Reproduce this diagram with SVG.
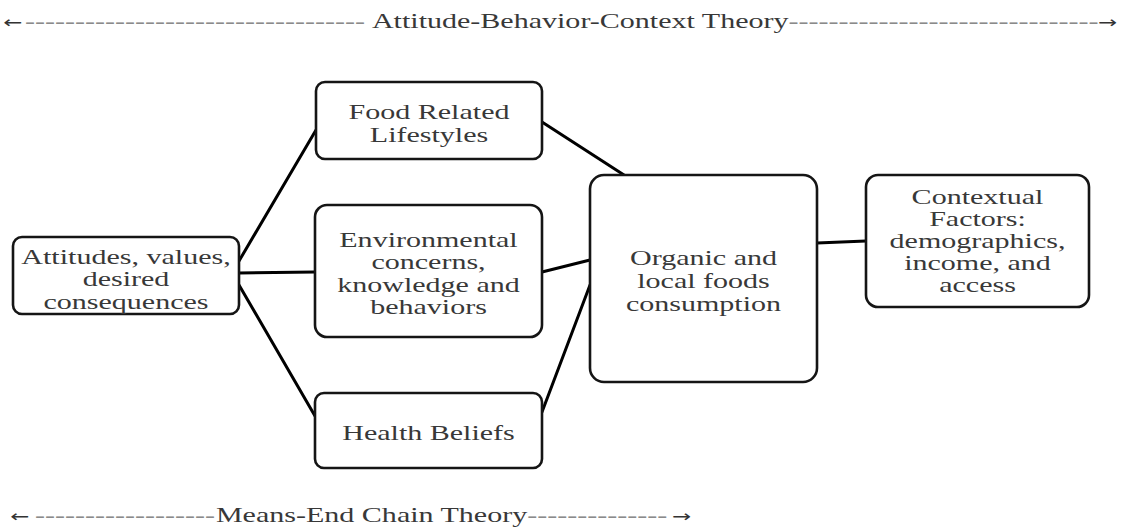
<svg xmlns="http://www.w3.org/2000/svg" width="1126" height="527" viewBox="0 0 1126 527">
<style>
.box{fill:#fff;stroke:#151515;stroke-width:2.6}
.lbl{font-family:"Liberation Serif","Times New Roman",serif;font-size:21px;fill:#383838;text-anchor:middle}
.ttl{font-family:"Liberation Serif","Times New Roman",serif;font-size:21px;fill:#383838}
.dash{fill:#8a8a8a}
.arr{font-family:"DejaVu Sans",sans-serif;font-size:16px;fill:#333}
.con{stroke:#000;stroke-width:3;fill:none;stroke-linecap:round}
</style>
<rect width="1126" height="527" fill="#fff"/>
<g id="connectors">
<line class="con" x1="239" y1="261" x2="316" y2="130"/>
<line class="con" x1="239" y1="273" x2="315" y2="272"/>
<line class="con" x1="239" y1="285" x2="315" y2="416"/>
<line class="con" x1="542" y1="122" x2="624" y2="175"/>
<line class="con" x1="542" y1="272" x2="590" y2="260"/>
<line class="con" x1="542" y1="412" x2="590" y2="285"/>
<line class="con" x1="817" y1="243" x2="866" y2="241"/>
</g>
<g id="node-attitudes">
<rect class="box" x="13" y="237" width="226" height="77" rx="9"/>
<g transform="translate(126,0) scale(1.43,1)"><text class="lbl"><tspan x="0" y="264">Attitudes, values,</tspan><tspan x="0" y="286.5">desired</tspan><tspan x="0" y="309">consequences</tspan></text></g>
</g>
<g id="node-food">
<rect class="box" x="316" y="82" width="226" height="77" rx="9"/>
<g transform="translate(429,0) scale(1.43,1)"><text class="lbl"><tspan x="0" y="119">Food Related</tspan><tspan x="0" y="142">Lifestyles</tspan></text></g>
</g>
<g id="node-environmental">
<rect class="box" x="315" y="205" width="227" height="132" rx="12"/>
<g transform="translate(428.5,0) scale(1.43,1)"><text class="lbl"><tspan x="0" y="247">Environmental</tspan><tspan x="0" y="269">concerns,</tspan><tspan x="0" y="292">knowledge and</tspan><tspan x="0" y="314">behaviors</tspan></text></g>
</g>
<g id="node-health">
<rect class="box" x="315" y="393" width="227" height="75" rx="9"/>
<g transform="translate(428.5,0) scale(1.43,1)"><text class="lbl"><tspan x="0" y="440">Health Beliefs</tspan></text></g>
</g>
<g id="node-organic">
<rect class="box" x="590" y="175" width="227" height="207" rx="14"/>
<g transform="translate(703.5,0) scale(1.43,1)"><text class="lbl"><tspan x="0" y="265">Organic and</tspan><tspan x="0" y="288">local foods</tspan><tspan x="0" y="311">consumption</tspan></text></g>
</g>
<g id="node-contextual">
<rect class="box" x="866" y="175" width="223" height="132" rx="12"/>
<g transform="translate(977.5,0) scale(1.43,1)"><text class="lbl"><tspan x="0" y="204">Contextual</tspan><tspan x="0" y="226">Factors:</tspan><tspan x="0" y="248">demographics,</tspan><tspan x="0" y="270">income, and</tspan><tspan x="0" y="292">access</tspan></text></g>
</g>
<g id="title-top" transform="scale(1.43,1)">
<text class="ttl" y="28"><tspan class="arr" x="2.1">←</tspan><tspan class="dash" x="17.5">----------------------------------</tspan><tspan x="260.1">Attitude-Behavior-Context Theory</tspan><tspan class="dash">-------------------------------</tspan><tspan class="arr" x="767.8">→</tspan></text>
</g>
<g id="title-bottom" transform="scale(1.43,1)">
<text class="ttl" y="522"><tspan class="arr" x="7">←</tspan><tspan class="dash" x="24.5">------------------</tspan><tspan x="151">Means-End Chain Theory</tspan><tspan class="dash">--------------</tspan><tspan class="arr" x="470">→</tspan></text>
</g>
</svg>
